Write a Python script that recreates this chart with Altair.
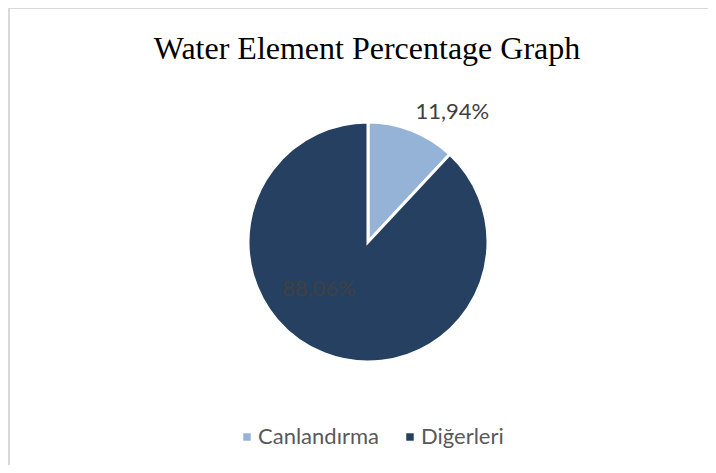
import altair as alt
import pandas as pd

categories = ["Canlandırma", "Diğerleri"]
values = [11.94, 88.06]
labels = ["11,94%", "88,06%"]
colors = ["#95b3d7", "#254061"]

W, H = 700, 457
CX, CY = 360, 234

df = pd.DataFrame({
    "category": categories,
    "value": values,
    "label": labels,
    "order": list(range(len(categories))),
})

base = alt.Chart(df).encode(
    theta=alt.Theta("value:Q", stack=True),
    order=alt.Order("order:Q", sort="ascending"),
    x=alt.value(CX),
    y=alt.value(CY),
)

pie = base.mark_arc(outerRadius=120, stroke="white", strokeWidth=3).encode(
    color=alt.Color(
        "category:N",
        scale=alt.Scale(domain=categories, range=colors),
        legend=alt.Legend(
            title=None,
            orient="none",
            legendX=228,
            legendY=418,
            direction="horizontal",
            symbolType="square",
            symbolSize=56,
            symbolStrokeWidth=0,
            labelFont="Lato",
            labelFontSize=22,
            labelColor="#595959",
            labelOffset=0,
            columnPadding=20,
            padding=0,
        ),
    )
)

inner = base.mark_text(
    radius=69, fontSize=22, font="Lato", color="#404040", dx=-24, dy=-17
).encode(
    text=alt.condition("datum.category == 'Diğerleri'", alt.Text("label:N"), alt.value(""))
)

outer = base.mark_text(
    radius=140, fontSize=22, font="Lato", color="#404040", dx=33, dy=0
).encode(
    text=alt.condition("datum.category == 'Canlandırma'", alt.Text("label:N"), alt.value(""))
)

frame_df = pd.DataFrame({"edge": ["frame"]})
left_edge = alt.Chart(frame_df).mark_rule(color="#d9d9d9", strokeWidth=2).encode(
    x=alt.value(1), y=alt.value(0), y2=alt.value(H)
)
top_edge = alt.Chart(frame_df).mark_rule(color="#d9d9d9", strokeWidth=2).encode(
    x=alt.value(0), x2=alt.value(W), y=alt.value(0)
)

chart = (
    alt.layer(left_edge, top_edge, pie, inner, outer)
    .properties(
        width=W,
        height=H,
        autosize=alt.AutoSizeParams(type="none"),
        padding=0,
        title=alt.TitleParams(
            "Water Element Percentage Graph",
            font="Liberation Serif",
            fontSize=32,
            fontWeight="normal",
            color="#000000",
            anchor="middle",
            frame="group",
            baseline="alphabetic",
            offset=0,
            dy=84,
            dx=9,
        ),
    )
    .configure_view(strokeWidth=0)
)

chart.save("out.html", embed_options={"renderer": "svg", "actions": False})
